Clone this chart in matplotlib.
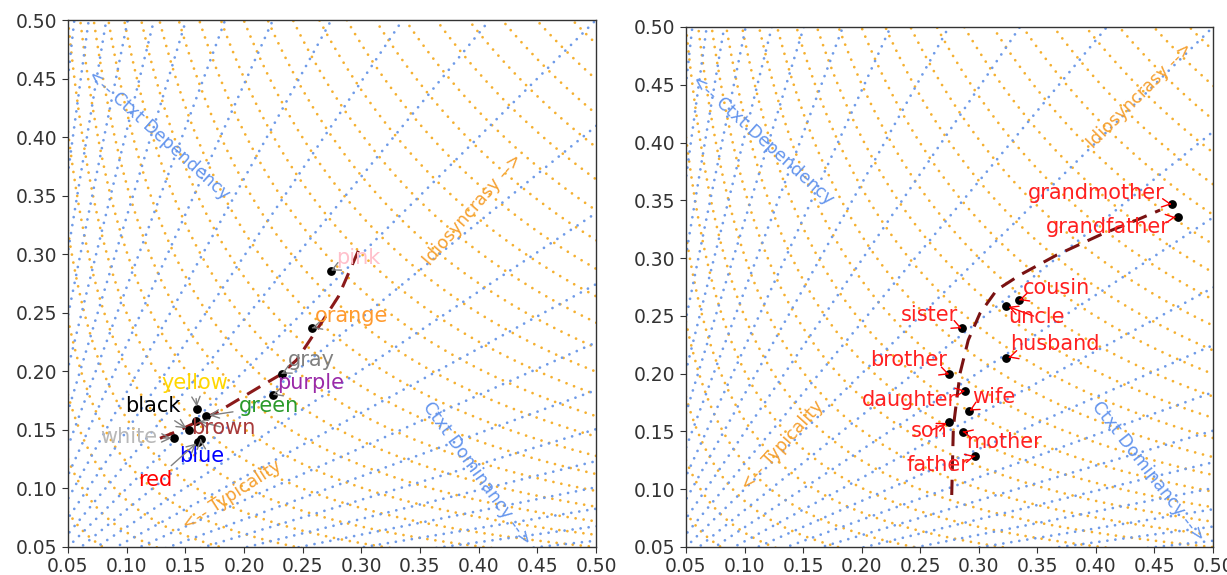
import numpy as np
import matplotlib
matplotlib.use("Agg")
import matplotlib.pyplot as plt

# ---------------- data ----------------
color_words = ["pink", "orange", "gray", "purple", "yellow", "black",
               "green", "brown", "white", "blue", "red"]
color_x = [0.274, 0.258, 0.232, 0.2245, 0.160, 0.153, 0.168, 0.159, 0.1406, 0.163, 0.161]
color_y = [0.286, 0.237, 0.198, 0.180, 0.1676, 0.150, 0.162, 0.158, 0.1428, 0.142, 0.140]
color_label_x = [0.297, 0.292, 0.257, 0.257, 0.158, 0.122, 0.221, 0.182, 0.102, 0.164, 0.124]
color_label_y = [0.297, 0.247, 0.210, 0.190, 0.190, 0.170, 0.170, 0.152, 0.144, 0.128, 0.107]
color_text_colors = ["pink", "#ff9a2e", "gray", "#9a2aa8", "gold", "black",
                     "#2a9a2a", "#a83a3a", "#b8b8b8", "blue", "red"]
color_trend_x = [0.1284, 0.1455, 0.1781, 0.2136, 0.2306, 0.2449, 0.2563, 0.2676, 0.2804, 0.3003]
color_trend_y = [0.1428, 0.1499, 0.1656, 0.1869, 0.1969, 0.2097, 0.2268, 0.2439, 0.2638, 0.3094]

kin_words = ["grandmother", "grandfather", "cousin", "uncle", "sister", "husband",
             "brother", "daughter", "wife", "son", "mother", "father"]
kin_x = [0.4648, 0.4704, 0.3344, 0.323, 0.2854, 0.323, 0.2749, 0.2885, 0.292, 0.2749, 0.2863, 0.2968]
kin_y = [0.3466, 0.3358, 0.2637, 0.2588, 0.2393, 0.2133, 0.1994, 0.1853, 0.168, 0.1584, 0.1498, 0.1287]
kin_label_x = [0.400, 0.410, 0.366, 0.349, 0.258, 0.365, 0.240, 0.241, 0.313, 0.2575, 0.3215, 0.265]
kin_label_y = [0.356, 0.327, 0.274, 0.249, 0.251, 0.226, 0.212, 0.177, 0.180, 0.150, 0.141, 0.121]
kin_trend_x = [0.2769, 0.2783, 0.284, 0.291, 0.301, 0.3153, 0.3352, 0.3666, 0.4035, 0.4349, 0.4548]
kin_trend_y = [0.095, 0.154, 0.2003, 0.229, 0.2522, 0.2724, 0.2854, 0.3027, 0.32, 0.333, 0.3416]

ticks = [0.05, 0.10, 0.15, 0.20, 0.25, 0.30, 0.35, 0.40, 0.45, 0.50]

# guide texts: (text, x, y, rotation, colour) per panel
left_guides = [("<-- Ctxt Dependency", 0.127, 0.402, -42, "cornflowerblue"),
               ("Idiosyncrasy -->", 0.395, 0.338, 49, "#f5a030"),
               ("<-- Typicality", 0.19, 0.094, 33, "#f5a030"),
               ("Ctxt Dominancy -->", 0.399, 0.113, -54, "cornflowerblue")]
right_guides = [("<-- Ctxt Dependency", 0.115, 0.402, -42, "cornflowerblue"),
                ("Idiosyncrasy -->", 0.4377, 0.441, 45, "#f5a030"),
                ("<-- Typicality", 0.132, 0.138, 48, "#f5a030"),
                ("Ctxt Dominancy -->", 0.4445, 0.115, -52, "cornflowerblue")]

# grid parameters (log-ratio step of rays, geometric-mean step of hyperbolas)
RAY_STEP = 0.2
HYP_STEP = 0.0158

BLUE = "#6f9be8"
ORANGE = "#f5b030"

fig = plt.figure(figsize=(12.27, 5.75), dpi=100)
axL = fig.add_axes([68 / 1227, 1 - 547 / 575, 528 / 1227, 527 / 575])
axR = fig.add_axes([686 / 1227, 1 - 547 / 575, 527 / 1227, 520 / 575])

dots = (0, (0.01, 2.9))


def draw_grid(ax):
    t = np.linspace(-4, 4, 4000)
    for n in range(1, 40):
        g = n * HYP_STEP
        ax.plot(g * np.exp(t), g * np.exp(-t), color=ORANGE, lw=2.0,
                linestyle=dots, dash_capstyle="round", zorder=1)
    xs = np.linspace(0.0, 0.8, 400)
    for k in range(-12, 13):
        r = np.exp(RAY_STEP * k)
        ax.plot(xs, r * xs, color=BLUE, lw=2.0, linestyle=dots,
                dash_capstyle="round", zorder=1.1)


def style(ax):
    ax.set_xlim(0.05, 0.5)
    ax.set_ylim(0.05, 0.5)
    ax.set_xticks(ticks)
    ax.set_yticks(ticks)
    ax.set_xticklabels([f"{v:.2f}" for v in ticks])
    ax.set_yticklabels([f"{v:.2f}" for v in ticks])
    ax.tick_params(labelsize=13.5, length=4, color="#333333", labelcolor="#333333")
    for s in ax.spines.values():
        s.set_color("#333333")
        s.set_linewidth(1.0)


for ax, guides in ((axL, left_guides), (axR, right_guides)):
    draw_grid(ax)
    style(ax)
    for txt, gx, gy, rot, c in guides:
        ax.text(gx, gy, txt, rotation=rot, color=c, fontsize=12.5,
                ha="center", va="center", rotation_mode="anchor", zorder=3)

# left panel
axL.plot(color_trend_x, color_trend_y, color="#8b1a1a", lw=2.2,
         linestyle=(0, (5, 3)), zorder=4)
axL.scatter(color_x, color_y, s=28, color="black", zorder=5)
for w, px, py, lx, ly, c in zip(color_words, color_x, color_y,
                                color_label_x, color_label_y, color_text_colors):
    axL.annotate(w, xy=(px, py), xytext=(lx, ly), color=c, fontsize=15,
                 ha="center", va="center", zorder=6,
                 arrowprops=dict(arrowstyle="->", color="gray", lw=1.0,
                                 shrinkA=2, shrinkB=2))

# right panel
axR.plot(kin_trend_x, kin_trend_y, color="#7a1212", lw=2.2,
         linestyle=(0, (5, 3)), zorder=4)
axR.scatter(kin_x, kin_y, s=28, color="black", zorder=5)
for w, px, py, lx, ly in zip(kin_words, kin_x, kin_y, kin_label_x, kin_label_y):
    axR.annotate(w, xy=(px, py), xytext=(lx, ly), color="#ff2020", fontsize=15,
                 ha="center", va="center", zorder=6,
                 arrowprops=dict(arrowstyle="->", color="red", lw=1.0,
                                 shrinkA=2, shrinkB=2))

fig.savefig("out.png", dpi=100, facecolor="white")
